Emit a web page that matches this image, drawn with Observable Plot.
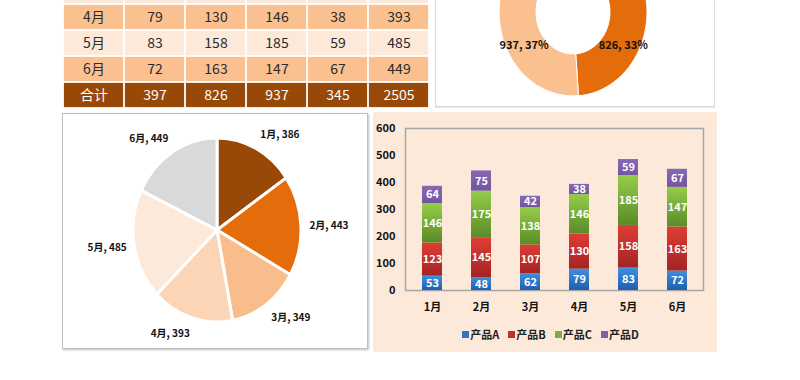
<!DOCTYPE html>
<html><head><meta charset="utf-8">
<script src="https://cdn.jsdelivr.net/npm/d3@7"></script>
<script src="https://cdn.jsdelivr.net/npm/@observablehq/plot@0.6"></script>
<style>
body{margin:0;background:#fff;}
#root{position:relative;width:800px;height:380px;overflow:hidden;font-family:"Noto Sans CJK SC","Noto Sans",sans-serif;background:#fff;}
.abs{position:absolute;box-sizing:border-box;}
#legend, #legend *{font-family:"Noto Sans CJK SC","Noto Sans",sans-serif !important;font-size:11px !important;font-weight:bold !important;color:#222 !important;}
#legend > div{justify-content:center;min-height:0 !important;margin:0 !important;}
#legend span{margin-right:9px !important;}
#legend svg{margin-right:1px !important;}
</style></head><body><div id="root"></div>
<script>
// ---------- data ----------
const months = ["1月","2月","3月","4月","5月","6月"];
const products = ["产品A","产品B","产品C","产品D"];
const valuesA = [53,48,62,79,83,72];
const valuesB = [123,145,107,130,158,163];
const valuesC = [146,175,138,146,185,147];
const valuesD = [64,75,42,38,59,67];
const monthTotals = [386,443,349,393,485,449];
const productTotals = [397,826,937,345];
const grandTotal = 2505;
const totalLabel = "合计";
const yTicks = [0,100,200,300,400,500,600];
// the table shows only the rows from 4月 down; earlier rows lie above the picture
const firstVisibleMonth = 3;

// ---------- styles ----------
const FONT = '"Noto Sans CJK SC","Noto Sans",sans-serif';
const barGradients = [["#3f90dd","#1f5eae"],["#df3d37","#a32423"],["#95cd49","#5a8b27"],["#8769b3","#7254a0"]];
const legendColors = ["#2e75c8","#c0302e","#7ab03a","#7f5fa8"];
const pieColors = ["#984807","#e46c0a","#f9bd8c","#fbd5b5","#fde9d9","#d9d9d9"];
const donutColors = ["#984807","#e46c0a","#fac090","#d9d9d9"];
const root = document.getElementById("root");
function place(el, left, top, extra = {}) {
  const d = document.createElement("div");
  d.className = "abs";
  Object.assign(d.style, {left: left + "px", top: top + "px"}, extra);
  if (el) d.appendChild(el);
  root.appendChild(d);
  return d;
}

// ---------- table ----------
const series = [valuesA, valuesB, valuesC, valuesD];
const shownMonths = months.slice(firstVisibleMonth - 1); // 3月 row only peeks in at the top edge
const rowKeys = [...shownMonths, "total"];
const tableCells = [];
shownMonths.forEach((m) => {
  const i = months.indexOf(m);
  const vals = [m, ...series.map(s => s[i]), monthTotals[i]];
  vals.forEach((v, c) => tableCells.push({row: m, col: c, text: String(v), kind: i % 2 === 0 ? "light" : "mid", visible: i >= firstVisibleMonth}));
});
[totalLabel, ...productTotals, grandTotal].forEach((v, c) => tableCells.push({row: "total", col: c, text: String(v), kind: "total", visible: true}));
const cellFill = {light: "#fde9d9", mid: "#fac090", total: "#984807"};
const textFill = {light: "#2b2b2b", mid: "#2b2b2b", total: "#ffffff"};
const rowH = 26.75;
const table = Plot.plot({
  width: 368, height: rowH * rowKeys.length,
  margin: 0,
  x: {domain: d3.range(6), padding: 0, axis: null},
  y: {domain: rowKeys, padding: 0, axis: null},
  color: {type: "identity"},
  style: {fontFamily: FONT, fontSize: "14px", background: "#fff"},
  marks: [
    Plot.cell(tableCells, {x: "col", y: "row", fill: d => cellFill[d.kind], inset: 0.9}),
    Plot.text(tableCells.filter(d => d.visible), {x: "col", y: "row", text: "text", fill: d => textFill[d.kind], dy: 0.5})
  ]
});
place(table, 62, 110 - rowH * rowKeys.length);

// ---------- pie helper ----------
function pieMark(values, colors, rx, ry, innerRatio, strokeWidth) {
  return (index, scales) => {
    const cx = scales.x(0), cy = scales.y(0);
    const arcs = d3.pie().sort(null)(values);
    const arc = d3.arc().innerRadius(rx * innerRatio).outerRadius(rx);
    const g = d3.create("svg:g").attr("transform", `translate(${cx},${cy}) scale(1,${ry / rx})`);
    g.selectAll("path").data(arcs).join("path")
      .attr("d", arc)
      .attr("fill", (d, i) => colors[i])
      .attr("stroke", "#fff")
      .attr("stroke-width", strokeWidth)
      .attr("vector-effect", "non-scaling-stroke");
    return g.node();
  };
}
function midAngles(values) {
  return d3.pie().sort(null)(values).map(a => (a.startAngle + a.endAngle) / 2);
}

// ---------- donut (product totals) ----------
const dW = 278, dH = 155, dcx = 137, dcy = 61, drx = 74, dry = 84;
const dMid = midAngles(productTotals);
const donutLabels = productTotals.map((v, i) => ({
  x: Math.sin(dMid[i]) * drx * 0.75,
  y: Math.cos(dMid[i]) * dry * 0.88,
  text: `${v}, ${Math.round(v / grandTotal * 100)}%`
})).filter(d => d.y < dcy - 55); // labels of the upper slices lie above the picture
const donut = Plot.plot({
  width: dW, height: dH, margin: 0,
  x: {domain: [-dcx, dW - dcx], axis: null},
  y: {domain: [-(dH - dcy), dcy], axis: null},
  style: {fontFamily: FONT, background: "#fff", overflow: "hidden"},
  marks: [
    pieMark(productTotals, donutColors, drx, dry, 0.5, 1),
    Plot.text(donutLabels, {x: "x", y: "y", text: "text", fill: "#111", fontSize: 11, fontWeight: "bold"})
  ]
});
place(donut, 435, -50, {border: "1px solid #d9d9d9", width: "280px", height: "157px", boxShadow: "0 1px 1px rgba(0,0,0,0.08)"});

// ---------- pie (month totals) ----------
const pW = 304, pH = 234, pcx = 154, pcy = 116, prx = 84, pry = 92;
const pMid = midAngles(monthTotals);
const pieLabels = monthTotals.map((v, i) => {
  const s = Math.sin(pMid[i]);
  return {x: s * 92, y: Math.cos(pMid[i]) * 108, text: `${months[i]}, ${v}`, side: s > 0.15 ? "start" : s < -0.15 ? "end" : "middle"};
});
const pieLabelMark = side => Plot.text(pieLabels.filter(d => d.side === side),
  {x: "x", y: "y", text: "text", textAnchor: side, fill: "#111", fontSize: 10, fontWeight: "bold"});
const pie = Plot.plot({
  width: pW, height: pH, margin: 0,
  x: {domain: [-pcx, pW - pcx], axis: null},
  y: {domain: [-(pH - pcy), pcy], axis: null},
  style: {fontFamily: FONT, background: "#fff"},
  marks: [
    pieMark(monthTotals, pieColors, prx, pry, 0, 3),
    pieLabelMark("start"), pieLabelMark("end"), pieLabelMark("middle")
  ]
});
place(pie, 62, 113, {border: "1px solid #bfbfbf", width: "306px", height: "236px", boxShadow: "1px 1px 2px rgba(0,0,0,0.25)"});

// ---------- stacked bars ----------
const stackRows = [];
months.forEach((m, i) => {
  let acc = 0;
  products.forEach((p, j) => {
    const v = series[j][i];
    stackRows.push({month: m, product: p, value: v, lo: acc, hi: acc + v});
    acc += v;
  });
});
const gradIds = products.map((p, j) => `barGrad${j}`);
const defsMark = () => {
  const defs = d3.create("svg:defs");
  barGradients.forEach(([top, bottom], j) => {
    const g = defs.append("linearGradient").attr("id", gradIds[j]).attr("x1", 0).attr("y1", 0).attr("x2", 0).attr("y2", 1);
    g.append("stop").attr("offset", "0%").attr("stop-color", top);
    g.append("stop").attr("offset", "100%").attr("stop-color", bottom);
  });
  return defs.node();
};
const panel = place(null, 373, 112, {width: "344px", height: "240px", background: "#fde9d9"});
const bars = Plot.plot({
  width: 344, height: 215,
  marginLeft: 32, marginRight: 14, marginTop: 16, marginBottom: 37,
  x: {domain: months, paddingInner: 0.6, paddingOuter: 0.3, label: null, tickSize: 0, tickPadding: 13},
  y: {domain: [0, 600], ticks: yTicks, label: null, tickSize: 0, tickPadding: 10, tickFormat: d => String(d)},
  color: {domain: products, range: gradIds.map(id => `url(#${id})`)},
  style: {fontFamily: FONT, fontSize: "11px", fontWeight: "bold", color: "#111", background: "transparent"},
  marks: [
    defsMark,
    Plot.frame({stroke: "#a6a6a6", strokeWidth: 1.5}),
    Plot.barY(stackRows, {x: "month", y1: "lo", y2: "hi", fill: "product"}),
    Plot.text(stackRows, {x: "month", y: d => (d.lo + d.hi) / 2, text: "value", fill: "#fff", fontSize: 11, fontWeight: "bold"})
  ]
});
panel.appendChild(bars);
const legend = Plot.legend({color: {domain: products, range: legendColors}, swatchSize: 7});
const legendBox = place(legend, 383, 326, {width: "344px"});
legendBox.id = "legend";
</script>
</body></html>
